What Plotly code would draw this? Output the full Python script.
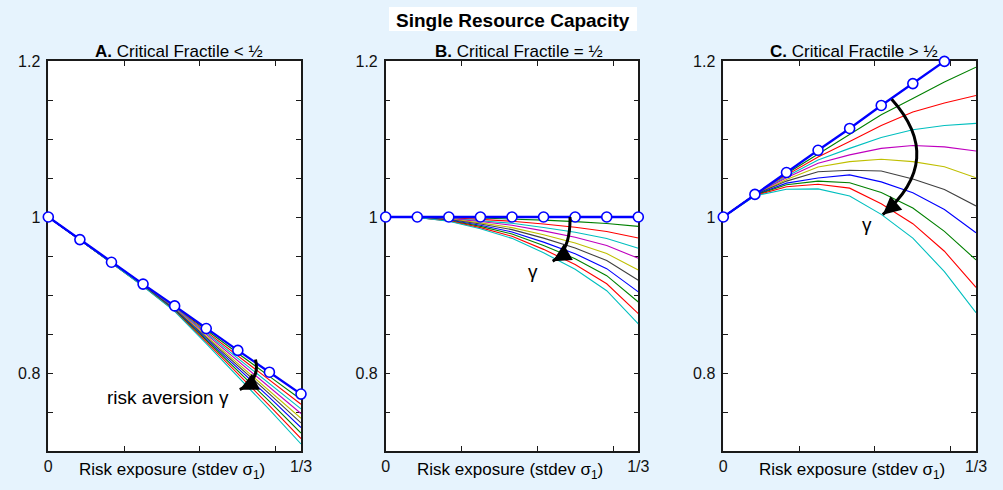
import plotly.graph_objects as go

FONT = "Liberation Sans, Arial, Helvetica, sans-serif"

# ---------------- data ----------------
x_pts = [0, 1/24, 2/24, 3/24, 4/24, 5/24, 6/24, 7/24, 8/24]

# Panel A: critical fractile < 1/2 ; first row = gamma 0 (blue with markers)
panel_a = [
    [1.000, 0.971, 0.942, 0.914, 0.886, 0.857, 0.829, 0.801, 0.773],
    [1.000, 0.971, 0.942, 0.9137, 0.8852, 0.8549, 0.8254, 0.7957, 0.766],
    [1.000, 0.971, 0.9418, 0.9134, 0.8846, 0.8531, 0.8222, 0.7912, 0.760],
    [1.000, 0.971, 0.9417, 0.9131, 0.8839, 0.8513, 0.8191, 0.7867, 0.754],
    [1.000, 0.971, 0.9416, 0.9129, 0.8832, 0.8495, 0.8160, 0.7822, 0.748],
    [1.000, 0.971, 0.9415, 0.9126, 0.8826, 0.8477, 0.8129, 0.7777, 0.742],
    [1.000, 0.971, 0.9414, 0.9123, 0.8819, 0.8459, 0.8098, 0.7732, 0.736],
    [1.000, 0.971, 0.9414, 0.9121, 0.8813, 0.8441, 0.8066, 0.7687, 0.730],
    [1.000, 0.971, 0.9412, 0.9117, 0.8805, 0.8420, 0.8030, 0.7635, 0.723],
    [1.000, 0.971, 0.9411, 0.9114, 0.8797, 0.8399, 0.7994, 0.7582, 0.716],
    [1.000, 0.971, 0.9410, 0.9111, 0.8790, 0.8378, 0.7957, 0.7530, 0.709],
]

# Panel B: critical fractile = 1/2
panel_b = [
    [1.000, 1.000, 1.000, 1.000, 1.000, 1.000, 1.000, 1.000, 1.000],
    [1.000, 0.9999, 0.9995, 0.9987, 0.9976, 0.9960, 0.9941, 0.9917, 0.988],
    [1.000, 0.9999, 0.9989, 0.9970, 0.9946, 0.9910, 0.9868, 0.9814, 0.973],
    [1.000, 0.9998, 0.9984, 0.9956, 0.9920, 0.9866, 0.9804, 0.9724, 0.960],
    [1.000, 0.9997, 0.9979, 0.9942, 0.9894, 0.9822, 0.9740, 0.9634, 0.947],
    [1.000, 0.9997, 0.9973, 0.9925, 0.9864, 0.9772, 0.9667, 0.9531, 0.932],
    [1.000, 0.9996, 0.9968, 0.9911, 0.9838, 0.9729, 0.9603, 0.9441, 0.919],
    [1.000, 0.9995, 0.9962, 0.9894, 0.9808, 0.9678, 0.9530, 0.9338, 0.904],
    [1.000, 0.9995, 0.9956, 0.9880, 0.9782, 0.9635, 0.9466, 0.9248, 0.891],
    [1.000, 0.9994, 0.9950, 0.9864, 0.9752, 0.9585, 0.9392, 0.9144, 0.876],
    [1.000, 0.9993, 0.9945, 0.9849, 0.9726, 0.9541, 0.9329, 0.9055, 0.863],
]

# Panel C: critical fractile > 1/2
panel_c = [
    [1.000, 1.029, 1.057, 1.0855, 1.1135, 1.143, 1.171, 1.1995, 1.228],
    [1.000, 1.029, 1.0555, 1.081, 1.106, 1.131, 1.152, 1.173, 1.192],
    [1.000, 1.029, 1.0537, 1.077, 1.0968, 1.1174, 1.1346, 1.1462, 1.1557],
    [1.000, 1.029, 1.052, 1.073, 1.088, 1.102, 1.1118, 1.1174, 1.120],
    [1.000, 1.029, 1.0503, 1.069, 1.0796, 1.088, 1.0916, 1.0899, 1.0847],
    [1.000, 1.0285, 1.048, 1.064, 1.071, 1.074, 1.071, 1.0645, 1.0503],
    [1.000, 1.0285, 1.046, 1.058, 1.060, 1.059, 1.0486, 1.0353, 1.0142],
    [1.000, 1.028, 1.0434, 1.050, 1.054, 1.045, 1.031, 1.0095, 0.9798],
    [1.000, 1.028, 1.0413, 1.046, 1.044, 1.0314, 1.0116, 0.9815, 0.945],
    [1.000, 1.0275, 1.0387, 1.042, 1.037, 1.017, 0.9914, 0.9561, 0.9097],
    [1.000, 1.027, 1.0356, 1.036, 1.027, 1.0034, 0.973, 0.9299, 0.8774],
]

line_colors = ["#0000FF", "#008000", "#FF0000", "#00BFBF", "#BF00BF", "#BFBF00",
               "#404040", "#0000FF", "#008000", "#FF0000", "#00BFBF"]

panel_titles = ["<b>A.</b> Critical Fractile < ½",
                "<b>B.</b> Critical Fractile = ½",
                "<b>C.</b> Critical Fractile > ½"]
main_title = "Single Resource Capacity"
x_title = "Risk exposure (stdev σ<sub>1</sub>)"

x_tick_vals = [0, 0.1, 0.2, 0.3, 1/3]
x_tick_text = ["0", "", "", "", "1/3"]
y_tick_vals = [0.7, 0.75, 0.8, 0.85, 0.9, 0.95, 1.0, 1.05, 1.1, 1.15, 1.2]
y_tick_text = ["", "", "0.8", "", "", "", "1", "", "", "", "1.2"]

# ---------------- figure ----------------
fig = go.Figure()
axes = [("x", "y"), ("x2", "y2"), ("x3", "y3")]
for curves, (xa, ya) in zip([panel_a, panel_b, panel_c], axes):
    for k in range(1, len(curves)):
        fig.add_trace(go.Scatter(x=x_pts, y=curves[k], mode="lines",
                                 line=dict(color=line_colors[k], width=1.1),
                                 xaxis=xa, yaxis=ya, showlegend=False, hoverinfo="skip"))
    fig.add_trace(go.Scatter(x=x_pts, y=curves[0], mode="lines",
                             line=dict(color=line_colors[0], width=2.3),
                             xaxis=xa, yaxis=ya, showlegend=False, hoverinfo="skip"))
    fig.add_trace(go.Scatter(x=x_pts, y=curves[0], mode="markers",
                             marker=dict(symbol="circle", size=10, color="white",
                                         line=dict(color="#0000FF", width=1.6)),
                             cliponaxis=False,
                             xaxis=xa, yaxis=ya, showlegend=False, hoverinfo="skip"))

x_domains = [[48.3 / 1003, 301.0 / 1003], [385.7 / 1003, 638.3 / 1003], [723.3 / 1003, 976.0 / 1003]]
y_domain = [1 - 451 / 490, 1 - 61 / 490]

axis_style = dict(showline=True, linecolor="#1a1a1a", linewidth=1.5, mirror="allticks",
                  ticks="inside", ticklen=5, tickwidth=1.3, tickcolor="#1a1a1a",
                  showgrid=False, zeroline=False, layer="below traces", automargin=False,
                  tickfont=dict(family=FONT, size=16, color="#111"))

layout = dict(width=1003, height=490, autosize=False,
              margin=dict(l=0, r=0, t=0, b=0, pad=0),
              paper_bgcolor="#E6F3FD", plot_bgcolor="white",
              font=dict(family=FONT, color="#111"))
for i, (xa, ya) in enumerate(axes):
    xname = "xaxis" if i == 0 else f"xaxis{i+1}"
    yname = "yaxis" if i == 0 else f"yaxis{i+1}"
    layout[xname] = dict(axis_style, domain=x_domains[i], range=[0, 1/3], anchor=ya,
                         tickmode="array", tickvals=x_tick_vals, ticktext=x_tick_text,
                         ticklabelstandoff=0)
    layout[yname] = dict(axis_style, domain=y_domain, range=[0.7, 1.2], anchor=xa,
                         tickmode="array", tickvals=y_tick_vals, ticktext=y_tick_text,
                         ticklabelstandoff=3)
fig.update_layout(**layout)

shapes = []
annotations = []
# title box
shapes.append(dict(type="rect", xref="paper", yref="paper",
                   x0=389 / 1003, x1=637 / 1003, y0=1 - 31 / 490, y1=1 - 7 / 490,
                   fillcolor="white", line=dict(width=0), layer="below"))
annotations.append(dict(text=f"<b>{main_title}</b>", xref="paper", yref="paper",
                        x=513 / 1003, y=1 - 20 / 490, showarrow=False,
                        font=dict(size=19, family=FONT, color="black"),
                        xanchor="center", yanchor="middle"))
# panel titles & x-axis titles
title_cx = [178.7, 519.0, 854.0]
xtitle_cx = [172.0, 509.7, 852.0]
for i in range(3):
    annotations.append(dict(text=panel_titles[i], xref="paper", yref="paper",
                            x=title_cx[i] / 1003, y=1 - 52 / 490, showarrow=False,
                            font=dict(size=17, family=FONT, color="black"),
                            xanchor="center", yanchor="middle"))
    annotations.append(dict(text=x_title, xref="paper", yref="paper",
                            x=xtitle_cx[i] / 1003, y=1 - 470.7 / 490, showarrow=False,
                            font=dict(size=17, family=FONT, color="black"),
                            xanchor="center", yanchor="middle"))

# curved arrows: (xref, yref, start, control, tip, tail offset px)
arrows = [
    ("x", "y", (0.2733, 0.8173), (0.2799, 0.7917), (0.2526, 0.7786), (12.6, -6.2)),
    ("x2", "y2", (0.2432, 1.000), (0.2441, 0.957), (0.2204, 0.9433), (12.1, -7.1)),
    ("x3", "y3", (0.2221, 1.1511), (0.294, 1.0731), (0.2103, 1.003), (10.6, -9.1)),
]
for xr, yr, p0, c, p1, off in arrows:
    shapes.append(dict(type="path", xref=xr, yref=yr,
                       path=f"M {p0[0]},{p0[1]} Q {c[0]},{c[1]} {p1[0]},{p1[1]}",
                       line=dict(color="black", width=3)))
    annotations.append(dict(text="", xref=xr, yref=yr, x=p1[0], y=p1[1],
                            ax=off[0], ay=off[1], showarrow=True, arrowhead=2,
                            arrowsize=1.2, arrowwidth=3, arrowcolor="black"))

annotations.append(dict(text="risk aversion γ", xref="x", yref="y", x=0.1577, y=0.768,
                        showarrow=False, font=dict(size=19, family=FONT, color="black")))
annotations.append(dict(text="γ", xref="x2", yref="y2", x=0.1944, y=0.930,
                        showarrow=False, font=dict(size=19, family=FONT, color="black")))
annotations.append(dict(text="γ", xref="x3", yref="y3", x=0.1892, y=0.990,
                        showarrow=False, font=dict(size=19, family=FONT, color="black")))

fig.update_layout(shapes=shapes, annotations=annotations)
fig.write_html("out.html", config={"displayModeBar": False},
               post_script="document.body.style.margin='0px';document.body.style.padding='0px';")
